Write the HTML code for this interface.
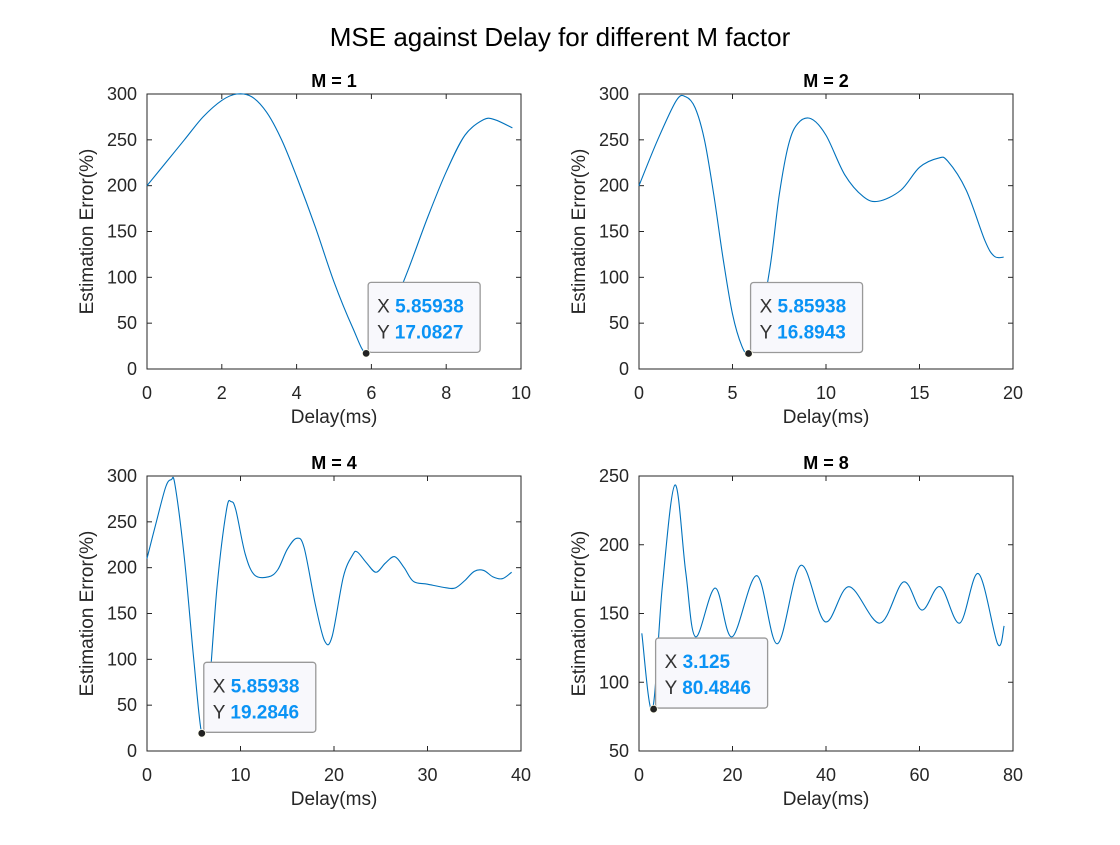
<!DOCTYPE html>
<html><head><meta charset="utf-8"><style>
body{margin:0;background:#fff;}
svg text{font-family:"Liberation Sans",Arial,sans-serif;}
</style></head><body>
<svg id="fig" width="1120" height="840" xmlns="http://www.w3.org/2000/svg">
<rect width="1120" height="840" fill="#fff"/>
<text x="560" y="46" text-anchor="middle" font-size="26" fill="#000">MSE against Delay for different M factor</text>
</svg>
<script>
const m1X=[0,0.5,1,1.5,2,2.4,2.8,3.2,3.6,4,4.5,5,5.5,5.86,6.2,6.6,7,7.5,8,8.5,9,9.3,9.77];
const m1Y=[200,225,250,275,293,300,297,280,250,210,155,95,45,17,35,70,110,165,215,255,272,272,263];
const m2X=[0,1,2,2.5,3,3.5,4,4.5,5,5.5,5.86,6.3,7,7.5,8,8.5,9.2,10,11,12,12.8,14,15,16,16.5,17.5,18.5,19,19.5];
const m2Y=[200,250,293,297,285,250,190,120,60,25,17,35,110,190,245,268,273,255,212,188,183,195,220,230,227,195,140,123,122];
const m4X=[0,1,2,2.6,3,4,5,5.86,6.5,7.5,8.5,9,9.5,10.5,11.5,13,14,15,16,16.8,18,19,19.8,21,22,22.5,23.5,24.5,25.5,26.5,27.5,28.5,30,32,33,34,35,36,37,38,39];
const m4Y=[210,250,288,296,290,210,100,19,50,180,263,272,263,215,192,190,198,220,232,222,160,120,125,190,214,217,205,195,205,212,200,185,182,178,178,186,196,197,190,188,195];
const m8X=[0.6,2.85,5,7.7,10,12.1,16.3,19.9,25.2,29.6,34.6,39.8,44.9,51.5,56.6,60.5,64.4,68.6,72.6,76.7,78.1];
const m8Y=[135.6,80,170,243.5,180,133,168.5,133,177.5,128,185,144,169.5,143,173,152.5,169.5,143,179,128,141];
const xTicks=[[0,2,4,6,8,10],[0,5,10,15,20],[0,10,20,30,40],[0,20,40,60,80]];
const yTicks=[[0,50,100,150,200,250,300],[0,50,100,150,200,250,300],[0,50,100,150,200,250,300],[50,100,150,200,250]];
const titles=["M = 1","M = 2","M = 4","M = 8"];
const tipX=["5.85938","5.85938","5.85938","3.125"];
const tipY=["17.0827","16.8943","19.2846","80.4846"];
const tipPt=[[5.85938,17.0827],[5.85938,16.8943],[5.85938,19.2846],[3.125,80.4846]];
const series=[[m1X,m1Y],[m2X,m2Y],[m4X,m4Y],[m8X,m8Y]];
const boxes=[[147,94,374,275],[639,94,374,275],[147,476,374,275],[639,476,374,275]];
const NS="http://www.w3.org/2000/svg";
const fig=document.getElementById('fig');
function mk(t,a,p){const e=document.createElementNS(NS,t);for(const k in a)e.setAttribute(k,a[k]);(p||fig).appendChild(e);return e;}
function spline(pts){let d="M"+pts[0][0]+","+pts[0][1];for(let i=0;i<pts.length-1;i++){const p0=pts[Math.max(0,i-1)],p1=pts[i],p2=pts[i+1],p3=pts[Math.min(pts.length-1,i+2)];const c1=[p1[0]+(p2[0]-p0[0])/6,p1[1]+(p2[1]-p0[1])/6],c2=[p2[0]-(p3[0]-p1[0])/6,p2[1]-(p3[1]-p1[1])/6];d+="C"+c1[0].toFixed(2)+","+c1[1].toFixed(2)+" "+c2[0].toFixed(2)+","+c2[1].toFixed(2)+" "+p2[0].toFixed(2)+","+p2[1].toFixed(2);}return d;}
for(let s=0;s<4;s++){
 const [L,T,W,H]=boxes[s];const xt=xTicks[s],yt=yTicks[s];
 const x0=xt[0],x1=xt[xt.length-1],y0=yt[0],y1=yt[yt.length-1];
 const sx=v=>L+(v-x0)/(x1-x0)*W, sy=v=>T+H-(v-y0)/(y1-y0)*H;
 const g=mk('g',{});
 
 
 const r=mk('rect',{x:L,y:T,width:W,height:H,fill:'#fff',stroke:'#262626','stroke-width':1},g);
 
 
 xt.forEach(v=>{const x=sx(v);mk('line',{x1:x,x2:x,y1:T+H,y2:T+H-5,stroke:'#262626'},g);mk('line',{x1:x,x2:x,y1:T,y2:T+5,stroke:'#262626'},g);
  const t=mk('text',{x:x,y:T+H+30,'text-anchor':'middle','font-size':18,fill:'#262626'},g);t.textContent=v;
  
  });
 yt.forEach(v=>{const y=sy(v);mk('line',{x1:L,x2:L+5,y1:y,y2:y,stroke:'#262626'},g);mk('line',{x1:L+W,x2:L+W-5,y1:y,y2:y,stroke:'#262626'},g);
  const t=mk('text',{x:L-10,y:y+6,'text-anchor':'end','font-size':18,fill:'#262626'},g);t.textContent=v;
  
  });
 const tt=mk('text',{x:L+W/2,y:T-7,'text-anchor':'middle','font-size':18,'font-weight':'bold',fill:'#000'},g);tt.textContent=titles[s];
 
 
 const xl=mk('text',{x:L+W/2,y:T+H+54,'text-anchor':'middle','font-size':19,fill:'#262626'},g);xl.textContent='Delay(ms)';
 
 
 const yl=mk('text',{x:0,y:0,'text-anchor':'middle','font-size':19,fill:'#262626',transform:`translate(${L-54},${T+H/2}) rotate(-90)`},g);yl.textContent='Estimation Error(%)';
 
 
 const [xs,ys]=series[s];const pts=xs.map((v,i)=>[sx(v),sy(ys[i])]);
 const p=mk('path',{d:spline(pts),fill:'none',stroke:'#0072bd','stroke-width':1.1},g);
 
 
 const px=sx(tipPt[s][0]),py=sy(tipPt[s][1]);
 const tg=mk('g',{},g);
 
 
 mk('rect',{x:px+2,y:py-71,width:112,height:70,rx:3,fill:'#f8f8fc',stroke:'#999','stroke-width':1.3},tg);
 const a=mk('text',{x:px+11,y:py-41,'font-size':19,fill:'#333'},tg);a.innerHTML='X <tspan font-weight="bold" fill="#0a93f5">'+tipX[s]+'</tspan>';
 const b=mk('text',{x:px+11,y:py-15,'font-size':19,fill:'#333'},tg);b.innerHTML='Y <tspan font-weight="bold" fill="#0a93f5">'+tipY[s]+'</tspan>';
 const dot=mk('circle',{cx:px,cy:py,r:3.8,fill:'#222',stroke:'#ffe',"stroke-width":0.8},g);
 
 
}
</script>
</body></html>
